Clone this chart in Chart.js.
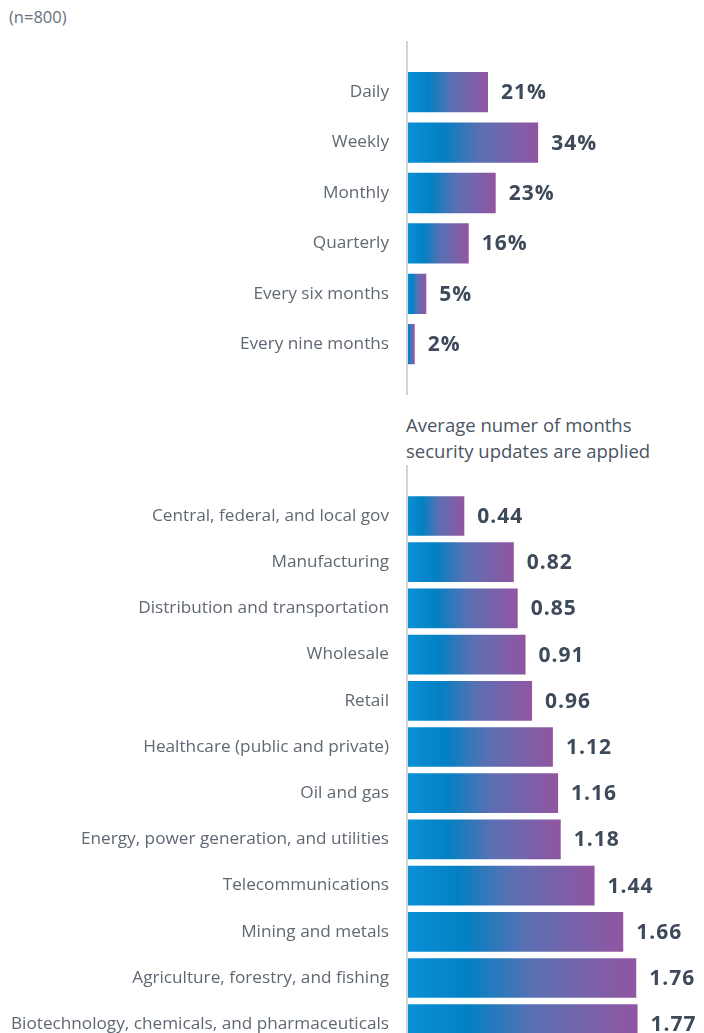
<!DOCTYPE html>
<html>
<head>
<meta charset="utf-8">
<script src="https://cdn.jsdelivr.net/npm/chart.js@4"></script>
<style>
  html, body { margin:0; padding:0; width:704px; height:1033px; overflow:hidden; background:#fff; font-family:"Open Sans", sans-serif; }
  #n { position:absolute; left:9px; top:5px; font-size:16.5px; color:#68717c; }
  #sub { position:absolute; left:406px; top:412px; font-size:18.5px; line-height:26px; color:#4a5563; }
  #top { position:absolute; left:0; top:41px; }
  #bot { position:absolute; left:0; top:465px; }
</style>
</head>
<body>
<div id="n">(n=800)</div>
<div id="sub">Average numer of months<br>security updates are applied</div>
<canvas id="top"></canvas>
<canvas id="bot"></canvas>
<script>
const freqLabels = ["Daily","Weekly","Monthly","Quarterly","Every six months","Every nine months"];
const freqValues = [21,34,23,16,5,2];

const industryLabels = ["Central, federal, and local gov","Manufacturing","Distribution and transportation","Wholesale","Retail","Healthcare (public and private)","Oil and gas","Energy, power generation, and utilities","Telecommunications","Mining and metals","Agriculture, forestry, and fishing","Biotechnology, chemicals, and pharmaceuticals"];
const industryValues = [0.44,0.82,0.85,0.91,0.96,1.12,1.16,1.18,1.44,1.66,1.76,1.77];

function barGradient(c){
  const chart = c.chart;
  const xs = chart.scales && chart.scales.x;
  if (!xs || c.raw == null) return "#0a8fd6";
  const x0 = xs.getPixelForValue(0), x1 = xs.getPixelForValue(c.raw);
  if (!isFinite(x0) || !isFinite(x1)) return "#0a8fd6";
  const g = chart.ctx.createLinearGradient(x0, 0, x1 > x0 ? x1 : x0 + 1, 0);
  g.addColorStop(0, "#0b90d7");
  g.addColorStop(0.27, "#0380c3");
  g.addColorStop(0.55, "#5a70b3");
  g.addColorStop(1, "#9255a1");
  return g;
}

// axis line + value labels
const extras = {
  id: "extras",
  afterDatasetsDraw(chart, args, opts){
    const ctx = chart.ctx;
    const x = chart.chartArea.left;
    ctx.save();
    ctx.strokeStyle = "#cfd4d9";
    ctx.lineWidth = 2;
    ctx.beginPath();
    ctx.moveTo(x, 0);
    ctx.lineTo(x, chart.height);
    ctx.stroke();
    ctx.font = "bold 21px 'Open Sans', sans-serif";
    if ("letterSpacing" in ctx) ctx.letterSpacing = "1px";
    ctx.fillStyle = "#3e4a5a";
    ctx.textBaseline = "middle";
    ctx.textAlign = "left";
    const meta = chart.getDatasetMeta(0);
    meta.data.forEach((bar, i) => {
      const v = chart.data.datasets[0].data[i];
      ctx.fillText(opts.fmt(v), bar.x + 13, bar.y + 1);
    });
    ctx.restore();
  }
};

function makeChart(id, h, labels, values, max, padTop, padBot, barPct, fmt){
  const cv = document.getElementById(id);
  cv.width = 704; cv.height = h;
  cv.style.width = "704px"; cv.style.height = h + "px";
  const chart = new Chart(cv, {
    type: "bar",
    data: { labels: labels, datasets: [{ data: values, backgroundColor: barGradient, borderWidth: 0, barPercentage: barPct, categoryPercentage: 1 }] },
    plugins: [extras],
    options: {
      responsive: false,
      animation: false,
      indexAxis: "y",
      layout: { padding: { top: padTop, bottom: padBot, left: 0, right: 0 } },
      plugins: { legend: { display: false }, tooltip: { enabled: false }, extras: { fmt: fmt } },
      scales: {
        x: { display: false, min: 0, max: max },
        y: {
          grid: { display: false, drawTicks: false },
          border: { display: false },
          ticks: { padding: 18, color: "#5f6873", font: { family: "'Open Sans', sans-serif", size: 17.2 } },
          afterFit(s){ s.width = 407; s.paddingTop = 0; s.paddingBottom = 0; }
        }
      }
    }
  });
  chart.update();
  return chart;
}

makeChart("top", 354, freqLabels, freqValues, 77, 26, 25.6, 0.8, v => v + "%");
makeChart("bot", 600, industryLabels, industryValues, 2.28, 27.9, 17.7, 0.86, v => v.toFixed(2));
</script>
</body>
</html>
